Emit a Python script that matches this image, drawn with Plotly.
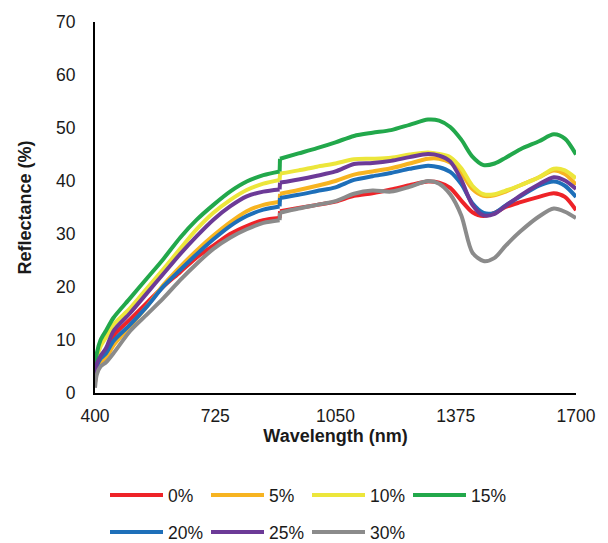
import plotly.graph_objects as go

wavelength = [400, 405, 415, 430, 450, 495, 540, 585, 630, 675, 720, 765, 810, 855, 899, 900,
              950, 1000, 1050, 1100, 1150, 1200, 1250, 1300, 1330, 1360, 1390, 1420, 1450,
              1480, 1510, 1550, 1600, 1640, 1670, 1700]

r0 = [2.0, 4.8, 6.5, 8.0, 10.8, 13.9, 17.0, 20.1, 22.8, 25.6, 27.8, 30.0, 31.5, 32.6, 33.0, 34.3,
      34.9, 35.5, 36.1, 37.2, 37.7, 38.4, 39.2, 39.9, 39.7, 38.7, 36.3, 34.1, 33.4,
      34.0, 35.1, 36.0, 37.0, 37.7, 37.0, 34.5]
r5 = [2.0, 4.5, 5.8, 6.6, 9.0, 12.6, 16.3, 20.4, 23.8, 26.9, 29.7, 32.2, 34.3, 35.5, 36.1, 37.6,
      38.3, 39.1, 40.0, 41.2, 41.8, 42.4, 43.3, 44.2, 44.2, 43.5, 41.5, 38.5, 37.2,
      37.3, 38.0, 39.2, 40.7, 42.0, 41.3, 39.3]
r10 = [3.5, 6.5, 8.8, 10.5, 12.9, 16.0, 19.7, 23.4, 27.2, 30.9, 34.0, 36.4, 38.3, 39.5, 40.2, 41.4,
       42.0, 42.7, 43.3, 44.1, 44.2, 44.4, 45.0, 45.4, 45.1, 44.5, 42.4, 39.1, 37.5,
       37.5, 38.2, 39.2, 40.7, 42.3, 42.0, 40.5]
r15 = [4.5, 7.5, 10.0, 11.8, 14.2, 17.9, 21.6, 25.3, 29.3, 32.7, 35.5, 38.0, 39.9, 41.1, 41.8, 44.2,
       45.2, 46.2, 47.3, 48.5, 49.1, 49.6, 50.6, 51.6, 51.4, 50.2, 47.8, 44.6, 43.0,
       43.3, 44.4, 46.0, 47.5, 48.8, 48.0, 45.0]
r20 = [2.5, 5.0, 6.5, 7.5, 9.8, 12.9, 16.3, 20.1, 23.2, 26.2, 29.0, 31.5, 33.4, 34.6, 35.2, 36.8,
       37.4, 38.1, 38.8, 40.2, 40.9, 41.5, 42.3, 42.9, 42.6, 41.7, 39.4, 35.8, 34.0,
       34.0, 35.4, 37.1, 39.1, 39.9, 39.1, 37.0]
r25 = [2.5, 5.5, 7.0, 8.5, 11.7, 15.1, 18.8, 22.5, 26.2, 29.6, 32.7, 35.2, 37.1, 38.0, 38.4, 39.7,
       40.3, 41.0, 41.8, 43.2, 43.4, 43.8, 44.5, 45.1, 44.8, 43.7, 40.2, 35.5, 33.5,
       33.8, 35.3, 37.3, 39.4, 40.7, 40.1, 38.5]
r30 = [1.0, 3.5, 5.0, 5.8, 7.5, 11.7, 14.8, 17.9, 21.3, 24.4, 27.2, 29.3, 30.9, 32.1, 32.6, 34.0,
       34.8, 35.5, 36.2, 37.6, 38.2, 38.0, 38.9, 40.0, 39.5, 37.5, 33.5, 26.5, 24.9,
       25.5, 27.8, 30.5, 33.3, 34.8, 34.2, 33.0]

names = ["0%", "5%", "10%", "15%", "20%", "25%", "30%"]
colors = ["#EE2328", "#F7B421", "#ECE63B", "#22A84B", "#1E6FB9", "#6C3A97", "#8B8B8B"]
series = [r0, r5, r10, r15, r20, r25, r30]
legend_ids = ["legend", "legend", "legend", "legend", "legend2", "legend2", "legend2"]

x_ticks = [400, 725, 1050, 1375, 1700]
y_ticks = [0, 10, 20, 30, 40, 50, 60, 70]

FONT = "Liberation Sans, Arial, sans-serif"

# index of the detector-switch step (last point before the jump)
jump = wavelength.index(899)

fig = go.Figure()
for name, col, ys, lg in zip(names, colors, series, legend_ids):
    line = dict(color=col, width=4)
    # visible-range segment (smooth)
    fig.add_trace(go.Scatter(x=wavelength[:jump + 1], y=ys[:jump + 1], mode="lines", name=name,
                             line=dict(**line, shape="spline", smoothing=0.8),
                             legend=lg, legendgroup=name))
    # detector step (straight)
    fig.add_trace(go.Scatter(x=wavelength[jump:jump + 2], y=ys[jump:jump + 2], mode="lines",
                             name=name, line=line, legend=lg, legendgroup=name,
                             showlegend=False))
    # NIR segment (smooth)
    fig.add_trace(go.Scatter(x=wavelength[jump + 1:], y=ys[jump + 1:], mode="lines", name=name,
                             line=dict(**line, shape="spline", smoothing=0.8),
                             legend=lg, legendgroup=name, showlegend=False))

legend_common = dict(orientation="h", font=dict(family=FONT, size=17.5, color="#1a1a1a"),
                     itemwidth=53, entrywidth=33, entrywidthmode="pixels",
                     bgcolor="rgba(0,0,0,0)",
                     xref="container", yref="container", xanchor="left", yanchor="middle",
                     traceorder="normal")

fig.update_layout(
    width=608, height=543,
    margin=dict(l=95, r=32, t=16, b=150),
    paper_bgcolor="white", plot_bgcolor="white",
    font=dict(family=FONT, size=17.5, color="#1a1a1a"),
    showlegend=True,
    legend=dict(**legend_common, x=105 / 608, y=1 - 495 / 543),
    legend2=dict(**legend_common, x=105 / 608, y=1 - 532 / 543),
    xaxis=dict(range=[400, 1700], tickvals=x_ticks, ticktext=[str(v) for v in x_ticks],
               showgrid=False, zeroline=False, showline=True, linecolor="black", linewidth=2,
               ticks="", ticklabelstandoff=6,
               title=dict(text="<b>Wavelength (nm)</b>", font=dict(size=18), standoff=0)),
    yaxis=dict(range=[0, 70], tickvals=y_ticks, showgrid=False, zeroline=False,
               showline=True, linecolor="black", linewidth=2, ticks="", ticklabelstandoff=14,
               title=dict(text="<b>Reflectance (%)</b>", font=dict(size=18), standoff=20)),
)

fig.write_html("out.html")
